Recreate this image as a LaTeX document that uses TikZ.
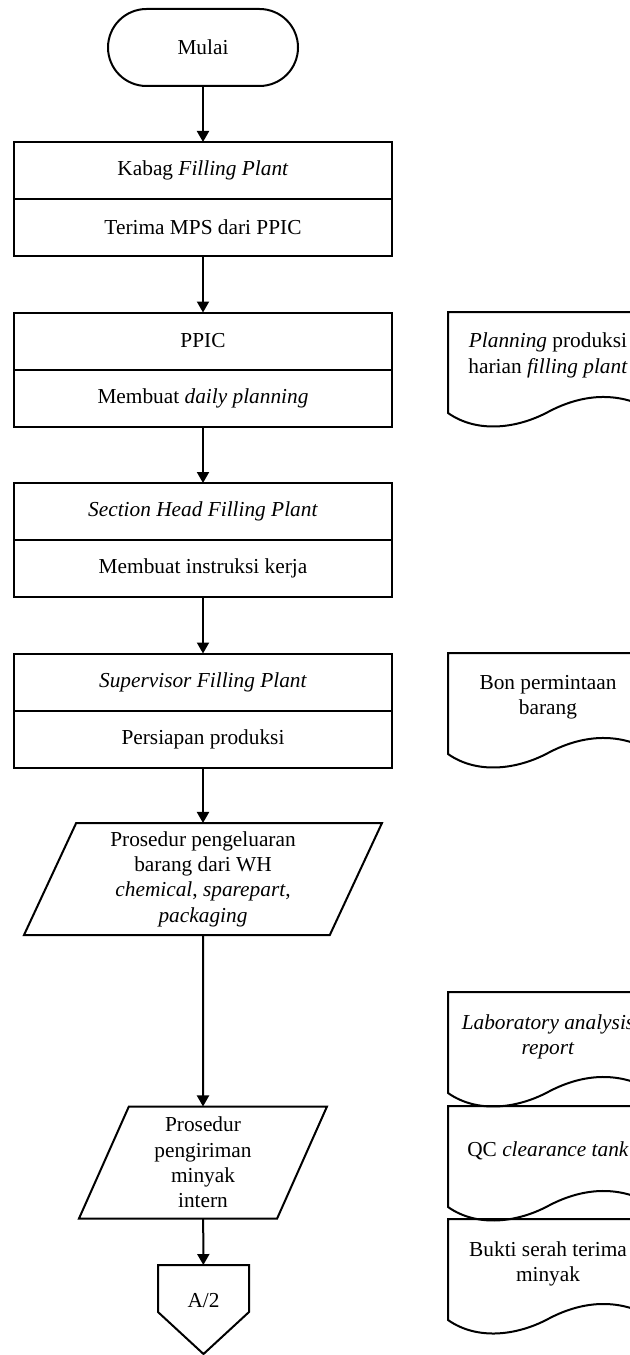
\documentclass[tikz,border=0pt]{standalone}
\usepackage{fontspec}
\setmainfont{Liberation Serif}
\usetikzlibrary{positioning,shapes.geometric,calc,arrows.meta}

\tikzset{every picture/.style={line width=0.75pt}}
\tikzset{
  terminator/.style={draw, line width=1.5pt, rounded corners=28.875pt, minimum width=142.5pt, minimum height=57.75pt, outer sep=0pt},
  lanepart/.style={draw, line width=1.5pt, minimum width=283.5pt, minimum height=42.75pt, outer sep=0pt},
  iobox/.style={draw, line width=1.5pt, trapezium, trapezium left angle=61.8, trapezium right angle=118.2, trapezium stretches body=true, minimum height=84pt, align=center, outer sep=0pt},
  offpage/.style={minimum width=68.25pt, minimum height=66.75pt, text depth=13pt, outer sep=0pt},
  doctext/.style={align=center},
  docline/.style={line width=1.5pt},
  flowarrow/.style={line width=1.5pt, -{Triangle[length=8.25pt,width=9pt]}}
}

\begin{document}
\begin{tikzpicture}[x=0.75pt,y=0.75pt,yscale=-1,xscale=1,
  every node/.style={font=\fontsize{16pt}{19pt}\selectfont, inner sep=0.75pt}]
\clip (0,0) rectangle (630,1355);

%Flowchart: Terminator
\node [terminator] (mulai) at (203,47.5) {Mulai};

%Shape: Rectangle
\node [lanepart] (kabag) at (203,170.5) {Kabag \textit{Filling Plant}};
\node [lanepart, below=0pt of kabag] (terima) {Terima MPS dari PPIC};
%Shape: Rectangle
\node [lanepart] (ppic) at (203,341) {PPIC};
\node [lanepart, below=0pt of ppic] (daily) {Membuat \textit{daily planning}};
%Shape: Rectangle
\node [lanepart] (sechead) at (203,511.5) {\textit{Section Head Filling Plant}};
\node [lanepart, below=0pt of sechead] (instruksi) {Membuat instruksi kerja};
%Shape: Rectangle
\node [lanepart] (supervisor) at (203,682) {\textit{Supervisor Filling Plant}};
\node [lanepart, below=0pt of supervisor] (persiapan) {Persiapan produksi};

%Flowchart: Data
\node [iobox, minimum width=268.5pt] (pengeluaran) at (203,879) {Prosedur pengeluaran\\barang dari WH\\\textit{chemical}, \textit{sparepart},\\\textit{packaging}};
%Flowchart: Data
\node [iobox, minimum width=186pt] (pengiriman) at (203,1162.5) {Prosedur\\pengiriman\\minyak\\intern};

%Flowchart: Off-page Connector
\node [offpage] (apage) at (203.5,1309.5) {A/2};
\draw [line width=1.5pt] (apage.north west) -- (apage.north east) -- ($(apage.north east)+(0,47)$) -- (apage.south) -- ($(apage.north west)+(0,47)$) -- cycle ;

%Straight Lines
\draw [flowarrow] (mulai) -- (kabag) ;
\draw [flowarrow] (terima) -- (ppic) ;
\draw [flowarrow] (daily) -- (sechead) ;
\draw [flowarrow] (instruksi) -- (supervisor) ;
\draw [flowarrow] (persiapan) -- (pengeluaran) ;
\draw [flowarrow] (pengeluaran) -- (pengiriman) ;
\draw [flowarrow] (pengiriman) -- (apage) ;

%Flowchart: Document
\draw [docline, shift={(448,312)}] (0,0) -- (200,0) -- (200,96) .. controls (165,78) and (130,84) .. (100,100) .. controls (70,116) and (30,122) .. (0,101) -- cycle ;
%Flowchart: Document
\draw [docline, shift={(448,653)}] (0,0) -- (200,0) -- (200,96) .. controls (165,78) and (130,84) .. (100,100) .. controls (70,116) and (30,122) .. (0,101) -- cycle ;
%Flowchart: Document
\draw [docline, shift={(448,992)}] (0,0) -- (200,0) -- (200,96) .. controls (165,78) and (130,84) .. (100,100) .. controls (70,116) and (30,122) .. (0,101) -- cycle ;
%Flowchart: Document
\draw [docline, shift={(448,1106)}] (0,0) -- (200,0) -- (200,96) .. controls (165,78) and (130,84) .. (100,100) .. controls (70,116) and (30,122) .. (0,101) -- cycle ;
%Flowchart: Document
\draw [docline, shift={(448,1219)}] (0,0) -- (200,0) -- (200,96) .. controls (165,78) and (130,84) .. (100,100) .. controls (70,116) and (30,122) .. (0,101) -- cycle ;

% Text Node
\node [doctext] (planprod) at (548,355.5) {\textit{Planning} produksi\\harian \textit{filling plant}};
% Text Node
\node [doctext] (bonminta) at (548,697) {Bon permintaan\\barang};
% Text Node
\node [doctext] (labreport) at (548,1037) {\textit{Laboratory analysis}\\\textit{report}};
% Text Node
\node [doctext] (qctank) at (548,1151) {QC \textit{clearance tank}};
% Text Node
\node [doctext] (serahterima) at (548,1264) {Bukti serah terima\\minyak};

\end{tikzpicture}
\end{document}
